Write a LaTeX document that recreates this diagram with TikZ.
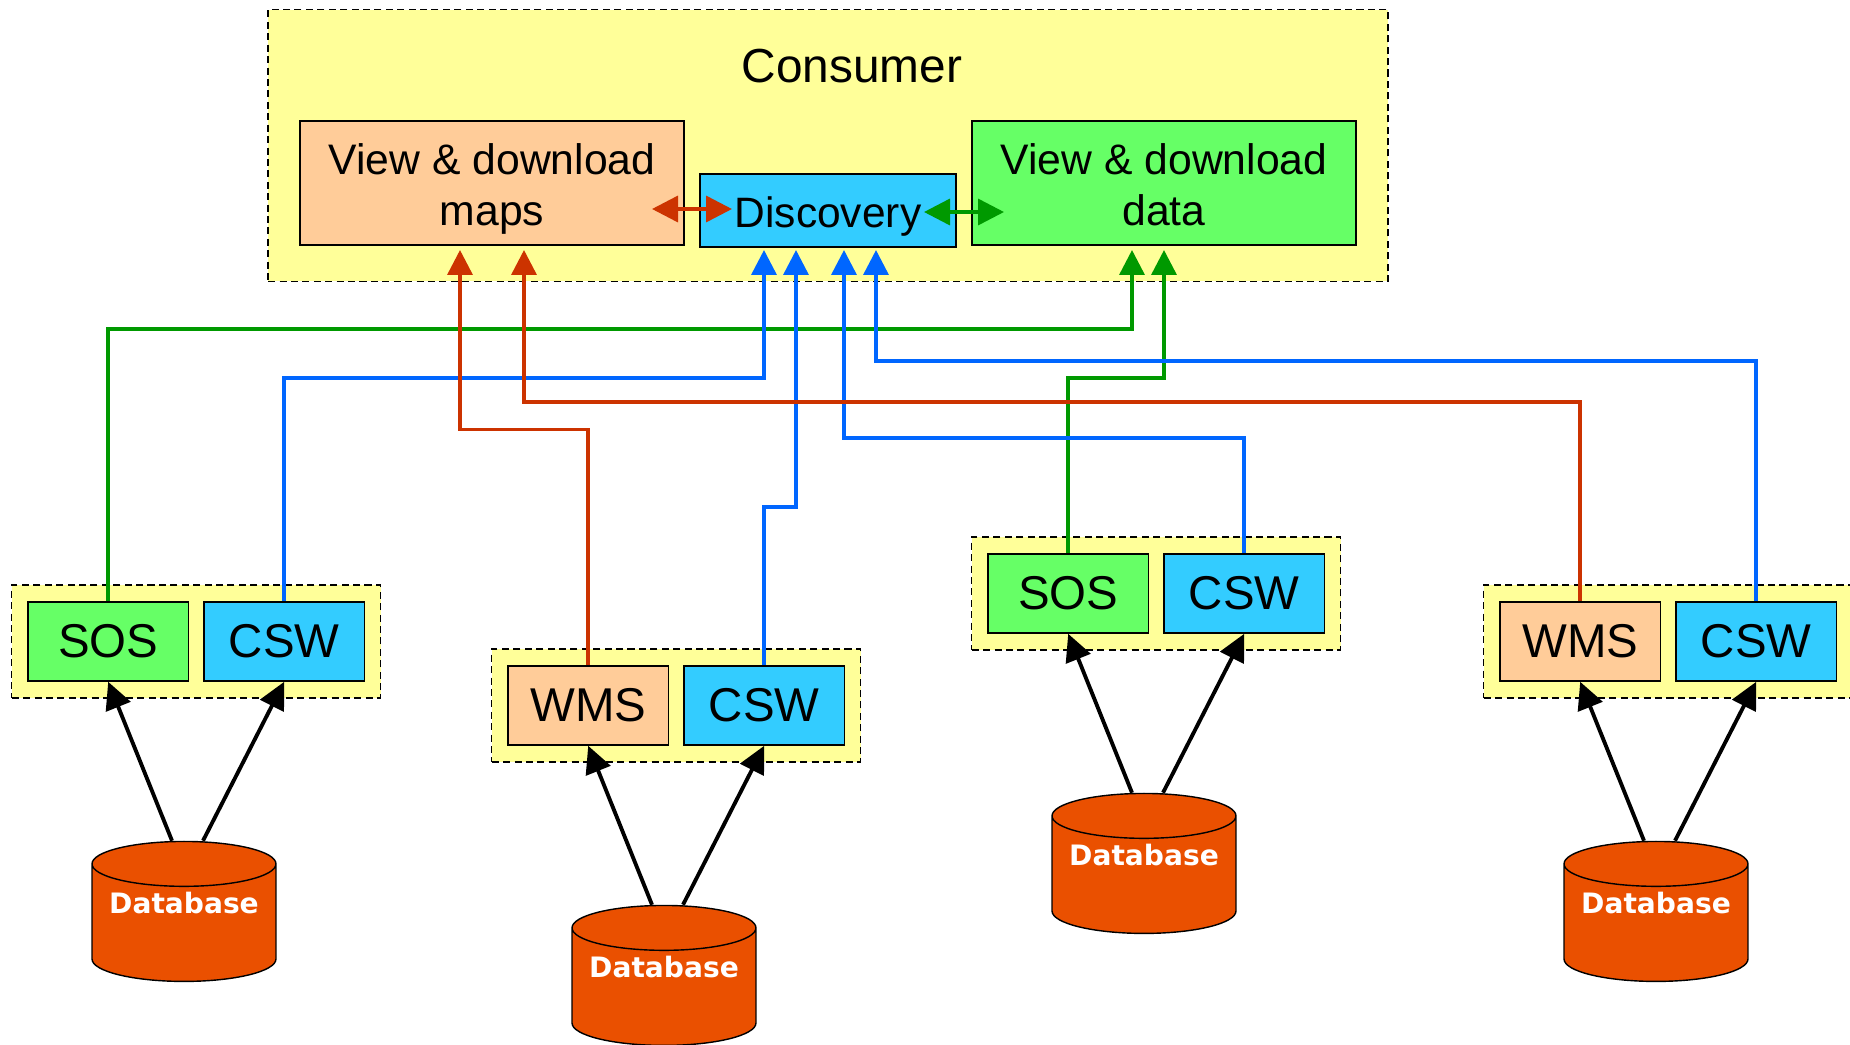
\documentclass[tikz,border=0pt]{standalone}
\usepackage{fontspec}
\setmainfont{Liberation Sans}
\newfontfamily\dbfont{DejaVu Sans}
\usetikzlibrary{arrows.meta,shapes.geometric}

\newcommand\lowered[1]{\strut\raisebox{-0.13cm}{\smash{#1}}}
\newcommand\dbtext{\smash{\raisebox{0.19cm}{Database}}}

\tikzset{
  tip/.style={-{Triangle[length=0.5cm,width=0.5cm]}},
  bothtip/.style={{Triangle[length=0.52cm,width=0.52cm]}-{Triangle[length=0.52cm,width=0.52cm]}},
  redline/.style={tip, line width=2pt, color=linered},
  greenline/.style={tip, line width=2pt, color=linegreen},
  blueline/.style={tip, line width=2pt, color=lineblue},
  feed/.style={-{Triangle[length=0.54cm,width=0.52cm]}, line width=2.2pt, black},
  panel/.style={draw, dashed, line width=0.8pt, fill=paleyellow, dash pattern=on 4pt off 2.5pt},
  box/.style={draw, line width=0.9pt, inner sep=0pt, align=center},
  service/.style={box, minimum width=3.22cm, minimum height=1.58cm, font=\fontsize{27}{30}\selectfont},
  viewbox/.style={box, minimum width=7.68cm, minimum height=2.48cm, font=\fontsize{24.3}{29}\selectfont},
  database/.style={cylinder, shape border rotate=90, aspect=0.3, draw, line width=0.8pt, fill=dborange,
    minimum width=3.68cm, minimum height=2.8cm, inner sep=0pt, text=white, font=\dbfont\bfseries\fontsize{16}{18}\selectfont},
}
\definecolor{paleyellow}{HTML}{FFFF99}
\definecolor{peach}{HTML}{FFCC99}
\definecolor{brightgreen}{HTML}{66FF66}
\definecolor{skyblue}{HTML}{33CCFF}
\definecolor{dborange}{HTML}{EA5000}
\definecolor{linered}{HTML}{CC3300}
\definecolor{linegreen}{HTML}{009900}
\definecolor{lineblue}{HTML}{0066FF}

\begin{document}
\begin{tikzpicture}[x=0.02cm, y=-0.02cm]
  \useasboundingbox (0,0) rectangle (1850,1045);

  % consumer
  \node[panel, minimum width=22.4cm, minimum height=5.44cm] (consumer) at (828,145.5) {};
  \node[font=\fontsize{27.2}{30}\selectfont] (title) at (852,66) {Consumer};
  \node[viewbox, fill=peach] (maps) at (492,183) {\lowered{View \& download}\\\lowered{maps}};
  \node[box, fill=skyblue, line width=1.2pt, minimum width=5.12cm, minimum height=1.46cm, font=\fontsize{24.2}{29}\selectfont] (discovery) at (828,210.5) {\lowered{Discovery}};
  \node[viewbox, fill=brightgreen] (data) at (1164,183) {\lowered{View \& download}\\\lowered{data}};

  % service groups
  \node[panel, minimum width=7.38cm, minimum height=2.26cm] (groupa) at (196.2,641.5) {};
  \node[service, fill=brightgreen] (sosa) at (108.2,641.5) {SOS};
  \node[service, fill=skyblue] (cswa) at (284.2,641.5) {CSW};

  \node[panel, minimum width=7.38cm, minimum height=2.26cm] (groupb) at (676.2,705.5) {};
  \node[service, fill=peach] (wmsb) at (588.2,705.5) {WMS};
  \node[service, fill=skyblue] (cswb) at (764.2,705.5) {CSW};

  \node[panel, minimum width=7.38cm, minimum height=2.26cm] (groupc) at (1156.2,593.5) {};
  \node[service, fill=brightgreen] (sosc) at (1068.2,593.5) {SOS};
  \node[service, fill=skyblue] (cswc) at (1244.2,593.5) {CSW};

  \node[panel, minimum width=7.38cm, minimum height=2.26cm] (groupd) at (1668.2,641.5) {};
  \node[service, fill=peach] (wmsd) at (1580.2,641.5) {WMS};
  \node[service, fill=skyblue] (cswd) at (1756.2,641.5) {CSW};

  % databases
  \node[database] (dba) at (184,923) {\dbtext};
  \node[database] (dbb) at (664,987) {\dbtext};
  \node[database] (dbc) at (1144,875) {\dbtext};
  \node[database] (dbd) at (1656,923) {\dbtext};

  \foreach \src/\dst in {dba/sosa, dbb/wmsb, dbc/sosc, dbd/wmsd}
    \draw[feed] ([xshift=-0.24cm]\src.north) -- (\dst.south);
  \foreach \src/\dst in {dba/cswa, dbb/cswb, dbc/cswc, dbd/cswd}
    \draw[feed] ([xshift=0.38cm]\src.north) -- (\dst.south);

  % ports on the consumer boxes
  \coordinate (mapsa) at (460,250);
  \coordinate (mapsb) at (524,250);
  \coordinate (disca) at (764,250);
  \coordinate (discb) at (796,250);
  \coordinate (discc) at (844,250);
  \coordinate (discd) at (876,250);
  \coordinate (dataa) at (1132,250);
  \coordinate (datab) at (1164,250);

  \draw[greenline] (sosa.north) |- (1132,329) -- (dataa);
  \draw[blueline] (cswa.north) |- (764,378) -- (disca);
  \draw[redline] (wmsb.north) |- (460,429.5) -- (mapsa);
  \draw[blueline] (cswb.north) |- (796,507) -- (discb);
  \draw[greenline] (sosc.north) |- (1164,378) -- (datab);
  \draw[blueline] (cswc.north) |- (844,438) -- (discc);
  \draw[redline] (wmsd.north) |- (524,402) -- (mapsb);
  \draw[blueline] (cswd.north) |- (876,361) -- (discd);

  % links inside the consumer
  \coordinate (reda) at (652,209);
  \coordinate (redb) at (732,209);
  \coordinate (greena) at (924,212);
  \coordinate (greenb) at (1004,212);
  \draw[bothtip, line width=2pt, color=linered] (reda) -- (redb);
  \draw[bothtip, line width=2pt, color=linegreen] (greena) -- (greenb);
\end{tikzpicture}
\end{document}
